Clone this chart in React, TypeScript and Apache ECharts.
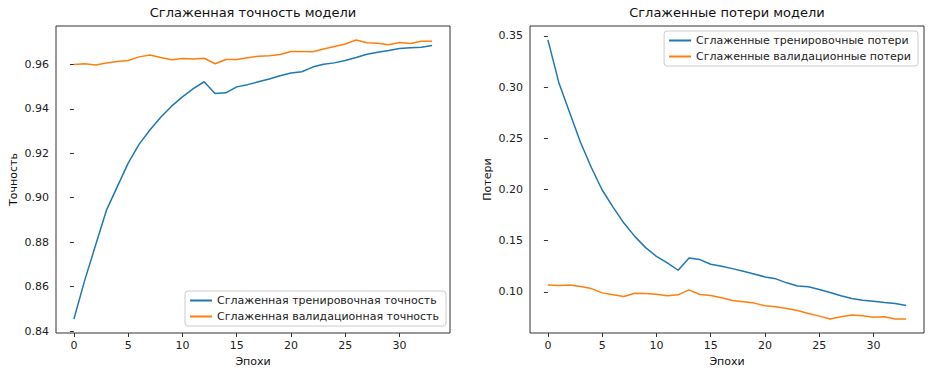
import React, { useEffect, useRef } from "react";
import * as echarts from "echarts";

const epochs = [0, 1, 2, 3, 4, 5, 6, 7, 8, 9, 10, 11, 12, 13, 14, 15, 16, 17, 18, 19, 20, 21, 22, 23, 24, 25, 26, 27, 28, 29, 30, 31, 32, 33];

const accTrain = [0.8454, 0.8629, 0.8787, 0.8944, 0.905, 0.9156, 0.924, 0.9305, 0.9362, 0.9412, 0.9454, 0.9491, 0.9522, 0.9469, 0.9472, 0.9499, 0.9509, 0.9522, 0.9534, 0.9549, 0.9561, 0.9567, 0.9588, 0.9601, 0.9607, 0.9618, 0.9631, 0.9646, 0.9655, 0.9663, 0.9672, 0.9675, 0.9677, 0.9685];
const accVal = [0.96, 0.9603, 0.9597, 0.9606, 0.9613, 0.9618, 0.9634, 0.9642, 0.9631, 0.9621, 0.9627, 0.9624, 0.9628, 0.9603, 0.9622, 0.9622, 0.963, 0.9637, 0.9639, 0.9645, 0.9658, 0.9658, 0.9657, 0.9669, 0.9681, 0.9692, 0.971, 0.9698, 0.9695, 0.9689, 0.9699, 0.9694, 0.9704, 0.9704];
const lossTrain = [0.3461, 0.3046, 0.2753, 0.2461, 0.2215, 0.1995, 0.1828, 0.1672, 0.1542, 0.1432, 0.1347, 0.1282, 0.1211, 0.1331, 0.1315, 0.1269, 0.125, 0.1227, 0.1201, 0.1175, 0.1146, 0.1127, 0.1088, 0.1058, 0.1049, 0.1023, 0.0994, 0.0961, 0.0935, 0.0919, 0.0909, 0.0896, 0.0886, 0.0867];
const lossVal = [0.1068, 0.1062, 0.1068, 0.1052, 0.1032, 0.099, 0.0971, 0.0955, 0.0987, 0.0984, 0.0977, 0.0961, 0.0971, 0.1019, 0.0974, 0.0964, 0.0942, 0.0916, 0.0903, 0.089, 0.0864, 0.0854, 0.0838, 0.0818, 0.0789, 0.0763, 0.0734, 0.0756, 0.0773, 0.0766, 0.0753, 0.0756, 0.0734, 0.0734];

const xTicks = [0, 5, 10, 15, 20, 25, 30];
const accTicks = [0.84, 0.86, 0.88, 0.9, 0.92, 0.94, 0.96];
const lossTicks = [0.1, 0.15, 0.2, 0.25, 0.3, 0.35];

const titles = ["Сглаженная точность модели", "Сглаженные потери модели"];
const yNames = ["Точность", "Потери"];
const xName = "Эпохи";
const names = {
  accTrain: "Сглаженная тренировочная точность",
  accVal: "Сглаженная валидационная точность",
  lossTrain: "Сглаженные тренировочные потери",
  lossVal: "Сглаженные валидационные потери",
};

const BLUE = "#1f77b4";
const ORANGE = "#ff7f0e";
const FONT = "DejaVu Sans";

export default function App() {
  const ref = useRef<HTMLDivElement>(null);
  useEffect(() => {
    if (!ref.current) return;
    const chart = echarts.init(ref.current, undefined, { renderer: "svg" });
    const pair = (ys: number[]) => epochs.map((e, i) => [e, ys[i]]);
    const xAxisBase = (gridIndex: number) => ({
      type: "value",
      gridIndex,
      min: -1.65,
      max: 34.65,
      name: xName,
      nameLocation: "middle",
      nameGap: 23,
      nameTextStyle: { fontSize: 11, color: "#111", fontFamily: FONT },
      axisLine: { show: false },
      splitLine: { show: false },
      axisTick: { show: true, customValues: xTicks, length: 4, lineStyle: { color: "#333" } },
      axisLabel: { customValues: xTicks, margin: 7, fontSize: 11, color: "#222", fontFamily: FONT },
    });
    const yAxisBase = (gridIndex: number, min: number, max: number, ticks: number[], name: string) => ({
      type: "value",
      gridIndex,
      min,
      max,
      name,
      nameLocation: "middle",
      nameGap: 37,
      nameTextStyle: { fontSize: 11, color: "#111", fontFamily: FONT },
      axisLine: { show: false },
      splitLine: { show: false },
      axisTick: { show: true, customValues: ticks, length: 4, lineStyle: { color: "#333" } },
      axisLabel: {
        customValues: ticks,
        margin: 7,
        fontSize: 11,
        color: "#222",
        fontFamily: FONT,
        formatter: (v: number) => v.toFixed(2),
      },
    });
    const legendBase = {
      orient: "vertical",
      icon: "rect",
      itemWidth: 22,
      itemHeight: 2,
      itemGap: 5,
      itemStyle: { borderWidth: 0 },
      backgroundColor: "rgba(255,255,255,0.8)",
      borderColor: "#cccccc",
      borderWidth: 1,
      borderRadius: 3,
      padding: [4, 7, 4, 5],
      textStyle: { fontSize: 11, color: "#222", fontFamily: FONT },
    };
    const lineSeries = (name: string, data: number[], color: string, idx: number) => ({
      type: "line",
      name,
      xAxisIndex: idx,
      yAxisIndex: idx,
      data: pair(data),
      showSymbol: false,
      symbol: "none",
      color,
      lineStyle: { width: 1.5, color },
    });
    chart.setOption({
      animation: false,
      textStyle: { fontFamily: FONT },
      title: [
        { text: titles[0], left: 253, top: 6, textAlign: "center", padding: 0, textStyle: { fontSize: 13, fontWeight: "normal", color: "#111", fontFamily: FONT } },
        { text: titles[1], left: 727, top: 6, textAlign: "center", padding: 0, textStyle: { fontSize: 13, fontWeight: "normal", color: "#111", fontFamily: FONT } },
      ],
      grid: [
        { left: 56, top: 26, width: 394, height: 307, show: true, borderColor: "#333", borderWidth: 1, containLabel: false },
        { left: 530, top: 26, width: 394, height: 307, show: true, borderColor: "#333", borderWidth: 1, containLabel: false },
      ],
      xAxis: [xAxisBase(0), xAxisBase(1)],
      yAxis: [
        yAxisBase(0, 0.8391, 0.9773, accTicks, yNames[0]),
        yAxisBase(1, 0.0598, 0.3597, lossTicks, yNames[1]),
      ],
      legend: [
        { ...legendBase, data: [names.accTrain, names.accVal], right: 932 - 446, top: 291 },
        { ...legendBase, data: [names.lossTrain, names.lossVal], right: 932 - 918, top: 31 },
      ],
      series: [
        lineSeries(names.accTrain, accTrain, BLUE, 0),
        lineSeries(names.accVal, accVal, ORANGE, 0),
        lineSeries(names.lossTrain, lossTrain, BLUE, 1),
        lineSeries(names.lossVal, lossVal, ORANGE, 1),
      ],
    });
    return () => chart.dispose();
  }, []);
  return <div ref={ref} style={{ position: "fixed", left: 0, top: 0, width: 932, height: 376, background: "#fff" }} />;
}
